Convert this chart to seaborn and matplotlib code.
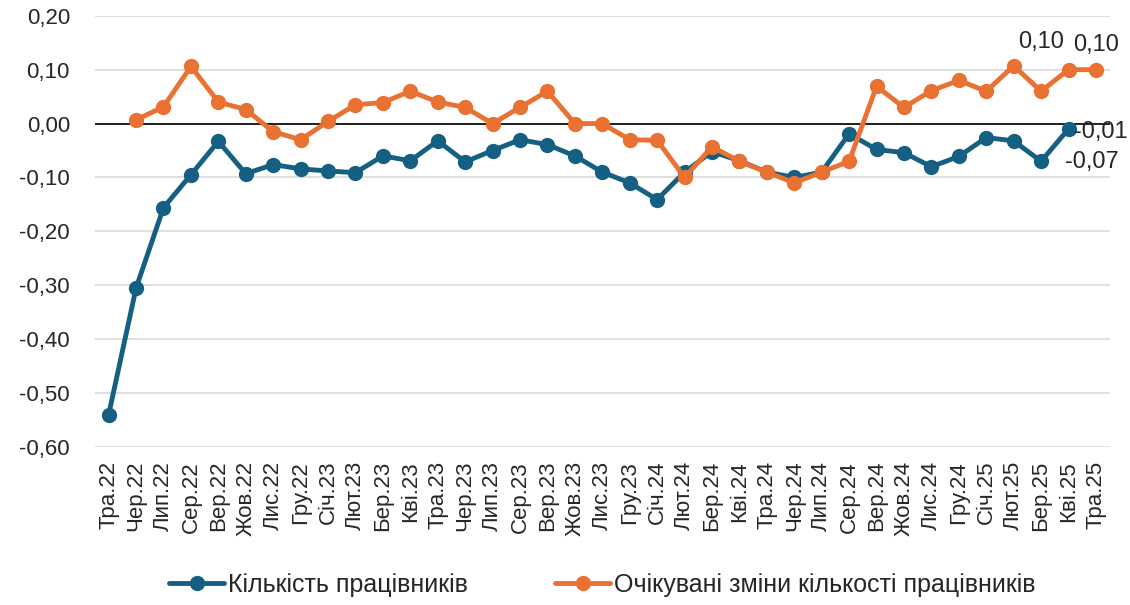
import numpy as np
import pandas as pd
import matplotlib
matplotlib.use('Agg')
import matplotlib.pyplot as plt
import seaborn as sns

# 1. Data
months = ['Тра.22', 'Чер.22', 'Лип.22', 'Сер.22', 'Вер.22', 'Жов.22', 'Лис.22', 'Гру.22',
          'Січ.23', 'Лют.23', 'Бер.23', 'Кві.23', 'Тра.23', 'Чер.23', 'Лип.23', 'Сер.23',
          'Вер.23', 'Жов.23', 'Лис.23', 'Гру.23', 'Січ.24', 'Лют.24', 'Бер.24', 'Кві.24',
          'Тра.24', 'Чер.24', 'Лип.24', 'Сер.24', 'Вер.24', 'Жов.24', 'Лис.24', 'Гру.24',
          'Січ.25', 'Лют.25', 'Бер.25', 'Кві.25', 'Тра.25']

workers = [-0.54, -0.305, -0.156, -0.095, -0.033, -0.093, -0.076, -0.084,
           -0.088, -0.091, -0.06, -0.069, -0.032, -0.071, -0.05, -0.03,
           -0.039, -0.06, -0.09, -0.11, -0.141, -0.09, -0.052, -0.069,
           -0.09, -0.10, -0.09, -0.019, -0.048, -0.054, -0.08, -0.061,
           -0.026, -0.032, -0.07, -0.01, np.nan]

expected = [np.nan, 0.007, 0.031, 0.106, 0.04, 0.026, -0.015, -0.03,
            0.004, 0.035, 0.039, 0.06, 0.04, 0.03, 0.0, 0.03,
            0.06, 0.0, 0.0, -0.03, -0.031, -0.10, -0.043, -0.07,
            -0.09, -0.11, -0.09, -0.07, 0.069, 0.03, 0.061, 0.08,
            0.06, 0.107, 0.06, 0.10, 0.10]

name_w = 'Кількість працівників'
name_e = 'Очікувані зміни кількості працівників'

df = pd.DataFrame({'month': months, name_w: workers, name_e: expected})
df['idx'] = range(len(months))
long = df.melt(id_vars=['month', 'idx'], var_name='series', value_name='value').dropna()

# 2. Plot
sns.set_style('white')
plt.rcParams['font.family'] = ['Liberation Sans', 'DejaVu Sans']

fig = plt.figure(figsize=(11.3, 6.05), dpi=100)
ax = fig.add_axes([0.084, 0.261, 0.898, 0.713])

palette = {name_w: '#156082', name_e: '#E97132'}
sns.lineplot(data=long, x='idx', y='value', hue='series', palette=palette,
             marker='o', markersize=11, markeredgewidth=0, linewidth=3.5,
             ax=ax, legend=True)

ax.axhline(0, color='black', linewidth=1.2, zorder=1)
ax.set_ylim(-0.6, 0.2)
ax.set_xlim(-0.5, len(months) - 0.5)
yt = np.round(np.arange(-0.6, 0.21, 0.1), 2)
ax.set_yticks(yt)
ax.set_yticklabels([f'{v + 0.0:.2f}'.replace('.', ',').replace('-0,00', '0,00') for v in yt],
                   fontsize=16)
ax.set_xticks(range(len(months)))
ax.set_xticklabels(months, rotation=90, fontsize=16)
ax.grid(axis='y', color='#d9d9d9', linewidth=1.2, zorder=0)
ax.set_axisbelow(True)
ax.tick_params(axis='y', length=0, pad=18)
ax.tick_params(axis='x', length=0, pad=10)
ax.set_xlabel('')
ax.set_ylabel('')
sns.despine(ax=ax, left=True, bottom=True)

# 3. Labels
ax.text(34, 0.13, '0,10', ha='center', va='bottom', fontsize=17)
ax.text(36, 0.125, '0,10', ha='center', va='bottom', fontsize=17)
ax.text(35.2, -0.015, '-0,01', ha='left', va='center', fontsize=17)
ax.text(35.85, -0.072, '-0,07', ha='center', va='center', fontsize=17)

handles, labels = ax.get_legend_handles_labels()
ax.legend(handles, labels, loc='lower center', bbox_to_anchor=(0.5, -0.4),
          ncol=2, frameon=False, fontsize=18, handlelength=2.2,
          handletextpad=0.15, columnspacing=3.5)

plt.savefig('out.png', dpi=100)
